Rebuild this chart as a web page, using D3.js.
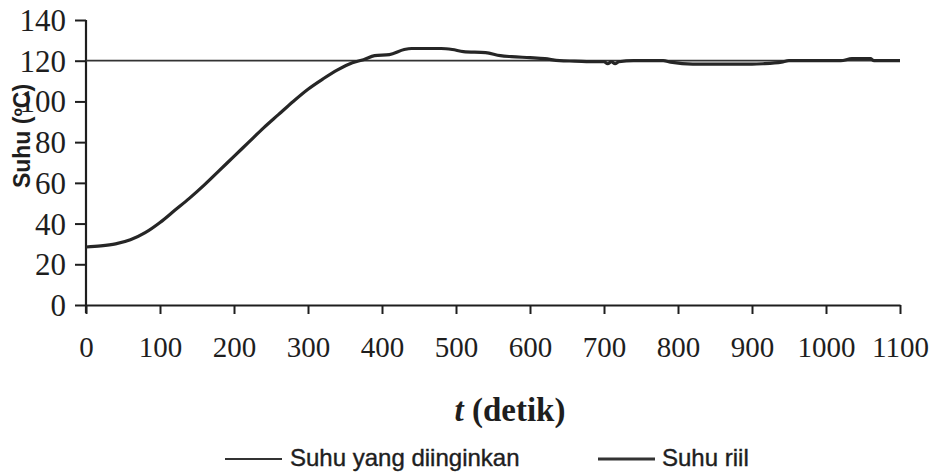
<!DOCTYPE html>
<html>
<head>
<meta charset="utf-8">
<script src="https://cdn.jsdelivr.net/npm/d3@7"></script>
<style>
  html, body { margin: 0; padding: 0; background: #ffffff; }
  svg { display: block; }
</style>
</head>
<body>
<svg id="chart" width="940" height="472"></svg>
<script>
// ---- data ----
const xTicks = [0, 100, 200, 300, 400, 500, 600, 700, 800, 900, 1000, 1100];
const yTicks = [0, 20, 40, 60, 80, 100, 120, 140];
const setTime = [0, 1100];
const setValue = [120, 120];
const riilTime = [0, 20, 40, 60, 80, 100, 120, 140, 160, 180, 200, 220, 240, 260, 280, 300, 320, 340, 360, 375, 390, 410, 430, 440, 460, 480, 495, 510, 540, 560, 575, 600, 620, 640, 660, 690, 700, 705, 710, 715, 720, 740, 760, 780, 790, 820, 860, 900, 915, 940, 950, 980, 1020, 1035, 1060, 1065, 1100];
const riilValue = [28.5, 29, 30, 32, 35.5, 40.5, 46.5, 52.5, 59, 66, 73, 80, 87, 93.5, 100, 106, 111, 115.5, 119, 120.5, 122.5, 123, 125.5, 126, 126, 126, 125.5, 124.5, 124, 122.5, 122, 121.5, 121, 120, 119.8, 119.5, 119.5, 118.5, 119.5, 118.5, 119.5, 120, 120, 120, 119.3, 118.3, 118.3, 118.3, 118.5, 119.3, 120, 120, 120, 121, 121, 120, 120];
const legendLabels = ["Suhu yang diinginkan", "Suhu riil"];

// ---- layout ----
const svg = d3.select("#chart");
const x = d3.scaleLinear().domain([0, 1100]).range([86, 900]);
const y = d3.scaleLinear().domain([0, 140]).range([305, 20]);
const ink = "#1e1e1e";

// y axis
const yAxis = svg.append("g")
  .attr("transform", `translate(${x(0)},0)`)
  .call(d3.axisLeft(y).tickValues(yTicks).tickSize(11).tickSizeOuter(0).tickPadding(9));
yAxis.select(".domain").attr("stroke", ink).attr("stroke-width", 2.2)
  .attr("d", `M0,${y(140)}V${y(0) + 8}`);
yAxis.selectAll(".tick line").attr("stroke", ink).attr("stroke-width", 2);
yAxis.selectAll(".tick text")
  .attr("font-family", "'Liberation Serif', 'Times New Roman', serif")
  .attr("font-size", 31).attr("fill", ink).attr("dy", "0.34em");

// x axis
const xAxis = svg.append("g")
  .attr("transform", `translate(0,${y(0)})`)
  .call(d3.axisBottom(x).tickValues(xTicks).tickFormat(d3.format("d"))
    .tickSize(9).tickSizeOuter(0).tickPadding(39));
xAxis.select(".domain").attr("stroke", ink).attr("stroke-width", 2.2);
xAxis.selectAll(".tick line").attr("stroke", ink).attr("stroke-width", 2);
xAxis.selectAll(".tick text")
  .attr("font-family", "'Liberation Serif', 'Times New Roman', serif")
  .attr("font-size", 29).attr("fill", ink).attr("dy", "0.15em");

// axis titles
svg.append("text")
  .attr("transform", `translate(30,136) rotate(-90)`)
  .attr("text-anchor", "middle")
  .attr("font-family", "'Liberation Sans', Arial, sans-serif")
  .attr("font-weight", "bold").attr("font-size", 23).attr("fill", ink)
  .text("Suhu (ºC)");

const xt = svg.append("text")
  .attr("x", 510).attr("y", 421)
  .attr("text-anchor", "middle")
  .attr("font-family", "'Liberation Serif', 'Times New Roman', serif")
  .attr("font-weight", "bold").attr("font-size", 33).attr("fill", ink);
xt.append("tspan").attr("font-style", "italic").text("t");
xt.append("tspan").text(" (detik)");

// lines
const line = d3.line().x(d => x(d[0])).y(d => y(d[1]));
svg.append("path")
  .datum(setTime.map((t, i) => [t, setValue[i]]))
  .attr("fill", "none").attr("stroke", "#333").attr("stroke-width", 1.8)
  .attr("d", line);
svg.append("path")
  .datum(riilTime.map((t, i) => [t, riilValue[i]]))
  .attr("fill", "none").attr("stroke", "#262626").attr("stroke-width", 3.2)
  .attr("stroke-linejoin", "round")
  .attr("d", line.curve(d3.curveMonotoneX));

// legend
const legend = [
  { label: legendLabels[0], x1: 225, x2: 282, tx: 290, w: 1.8 },
  { label: legendLabels[1], x1: 598, x2: 655, tx: 662, w: 3.2 }
];
legend.forEach(l => {
  svg.append("line").attr("x1", l.x1).attr("x2", l.x2).attr("y1", 459).attr("y2", 459)
    .attr("stroke", "#333").attr("stroke-width", l.w);
  svg.append("text").attr("x", l.tx).attr("y", 466)
    .attr("font-family", "'Liberation Sans', Arial, sans-serif")
    .attr("font-size", 24).attr("fill", ink)
    .attr("stroke", ink).attr("stroke-width", 0.4)
    .text(l.label);
});
</script>
</body>
</html>
